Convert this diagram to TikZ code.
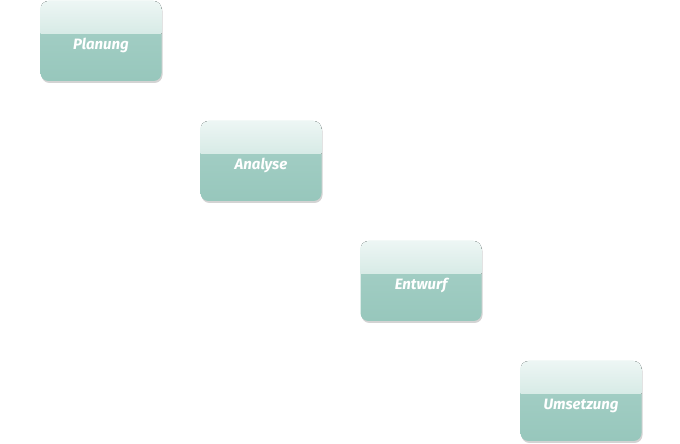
\documentclass[tikz,border=0pt]{standalone}
\usepackage{fontspec}
\setsansfont{Fira Sans}
\usetikzlibrary{shadows}
\definecolor{glosstop}{HTML}{EDF6F4}
\definecolor{glossbot}{HTML}{B8DAD2}
\definecolor{boxhi}{HTML}{A8D1C8}
\definecolor{boxlo}{HTML}{97C7BC}

\tikzset{
  stepbox/.style={rounded corners=8pt, minimum width=121pt, minimum height=80pt,
    inner sep=0pt, text height=20pt, text depth=3pt, text=white,
    font=\sffamily\bfseries\itshape\fontsize{15}{17}\selectfont,
    top color=boxhi, bottom color=boxlo,
    drop shadow={shadow xshift=1pt, shadow yshift=-2pt, opacity=0.35, fill=gray},
    path picture={\fill[sharp corners, top color=glosstop, bottom color=glossbot]
      (path picture bounding box.north west) rectangle ([yshift=7pt]path picture bounding box.east);}}
}

\begin{document}
\begin{tikzpicture}[x=1pt,y=1pt]
  \useasboundingbox (0,0) rectangle (680,444);

  % Phasen
  \node[stepbox] (planung) at (101,403) {Planung};
  \node[stepbox] (analyse) at (261,283) {Analyse};
  \node[stepbox] (entwurf) at (421,163) {Entwurf};
  \node[stepbox] (umsetzung) at (581,43) {Umsetzung};

\end{tikzpicture}
\end{document}
